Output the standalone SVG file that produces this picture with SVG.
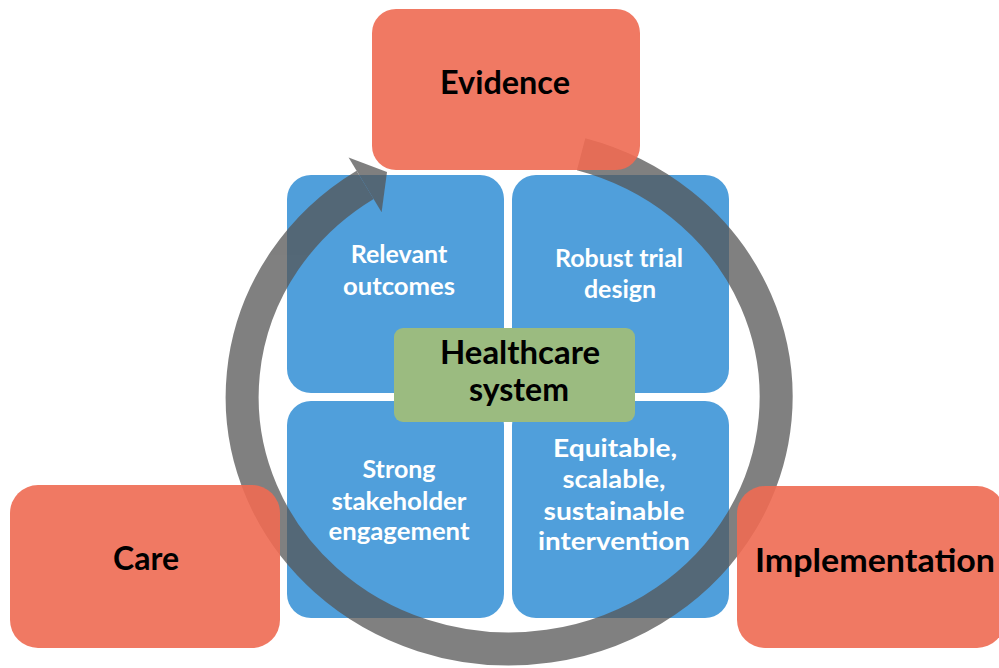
<svg xmlns="http://www.w3.org/2000/svg" width="999" height="668" viewBox="0 0 999 668">
<style>
.blue{fill:#509fdb}
.red{fill:#ee6a52;opacity:.9}
.green{fill:#9bbb80}
.wt{font-family:Lato,"Open Sans","Liberation Sans",sans-serif;font-weight:700;font-size:25px;fill:#fff;text-anchor:middle}
.bt{font-family:Lato,"Open Sans","Liberation Sans",sans-serif;font-weight:700;font-size:32px;fill:#000;text-anchor:middle}
</style>
<rect width="999" height="668" fill="#fff"/>
<g id="relevant-outcomes">
<rect class="blue" x="287" y="175" width="217" height="218" rx="24"/>
<text class="wt" x="399" y="263">Relevant</text>
<text class="wt" x="399" y="295" textLength="112" lengthAdjust="spacingAndGlyphs">outcomes</text>
</g>
<g id="robust-trial-design">
<rect class="blue" x="512" y="175" width="217" height="218" rx="24"/>
<text class="wt" x="619" y="267">Robust trial</text>
<text class="wt" x="620" y="298">design</text>
</g>
<g id="stakeholder-engagement">
<rect class="blue" x="287" y="401" width="217" height="217" rx="24"/>
<text class="wt" x="399" y="478">Strong</text>
<text class="wt" x="399" y="510" textLength="135" lengthAdjust="spacingAndGlyphs">stakeholder</text>
<text class="wt" x="399" y="540" textLength="141" lengthAdjust="spacingAndGlyphs">engagement</text>
</g>
<g id="equitable-intervention">
<rect class="blue" x="512" y="401" width="217" height="217" rx="24"/>
<text class="wt" x="615" y="457" textLength="124" lengthAdjust="spacingAndGlyphs">Equitable,</text>
<text class="wt" x="614" y="488" textLength="103" lengthAdjust="spacingAndGlyphs">scalable,</text>
<text class="wt" x="614" y="520" textLength="141" lengthAdjust="spacingAndGlyphs">sustainable</text>
<text class="wt" x="614" y="550" textLength="152" lengthAdjust="spacingAndGlyphs">intervention</text>
</g>
<g id="healthcare-system">
<rect class="green" x="394" y="328" width="241" height="94" rx="9"/>
<text class="bt" x="520" y="364" textLength="160" lengthAdjust="spacingAndGlyphs">Healthcare</text>
<text class="bt" x="519" y="401">system</text>
</g>
<g id="connectors" opacity="0.75">
<path d="M581.1 154.3 A267 252 0 1 1 365.1 184.8" fill="none" stroke="#555" stroke-width="33"/>
<polygon points="348.6,157.4 381.6,212.2 387,172" fill="#555"/>
</g>
<g id="evidence">
<rect class="red" x="372" y="9" width="268" height="161" rx="24"/>
<text class="bt" x="505" y="94" textLength="130" lengthAdjust="spacingAndGlyphs">Evidence</text>
</g>
<g id="care">
<rect class="red" x="10" y="485" width="270" height="163" rx="28"/>
<text class="bt" x="146" y="570">Care</text>
</g>
<g id="implementation">
<rect class="red" x="737" y="486" width="268" height="162" rx="28"/>
<text class="bt" x="875" y="572" textLength="240" lengthAdjust="spacingAndGlyphs">Implementation</text>
</g>
</svg>
